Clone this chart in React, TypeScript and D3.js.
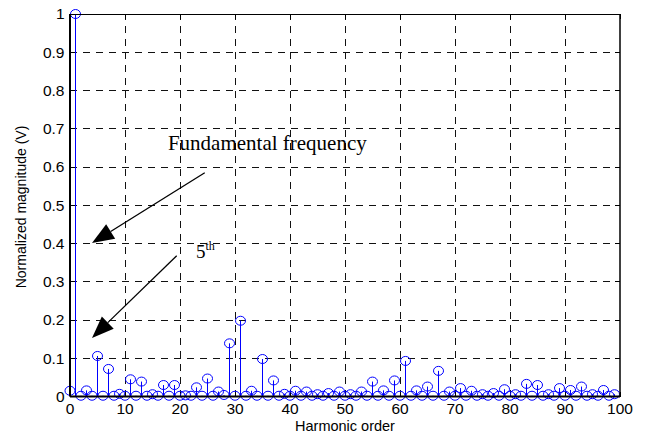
import React from "react";
import * as d3 from "d3";

const harmonics: number[] = d3.range(0, 100);
const magnitudes: number[] = [
  0.015, 1.0, 0.002, 0.016, 0.002, 0.106, 0.002, 0.072, 0.002, 0.007,
  0.002, 0.045, 0.002, 0.039, 0.002, 0.006, 0.002, 0.030, 0.002, 0.030,
  0.002, 0.003, 0.002, 0.024, 0.002, 0.047, 0.002, 0.013, 0.004, 0.139,
  0.002, 0.198, 0.002, 0.015, 0.002, 0.098, 0.002, 0.042, 0.002, 0.007,
  0.002, 0.015, 0.002, 0.013, 0.002, 0.006, 0.002, 0.009, 0.002, 0.013,
  0.002, 0.006, 0.002, 0.013, 0.002, 0.039, 0.002, 0.016, 0.002, 0.042,
  0.002, 0.093, 0.002, 0.016, 0.002, 0.026, 0.002, 0.067, 0.002, 0.013,
  0.002, 0.022, 0.002, 0.015, 0.002, 0.006, 0.002, 0.009, 0.002, 0.019,
  0.002, 0.006, 0.002, 0.033, 0.002, 0.030, 0.002, 0.006, 0.002, 0.022,
  0.002, 0.017, 0.002, 0.026, 0.002, 0.006, 0.002, 0.017, 0.002, 0.006,
];
const xTicks: number[] = [0, 10, 20, 30, 40, 50, 60, 70, 80, 90, 100];
const yTicks: number[] = [0, 0.1, 0.2, 0.3, 0.4, 0.5, 0.6, 0.7, 0.8, 0.9, 1];
const xLabel = "Harmonic order";
const yLabel = "Normalized magnitude (V)";
// annotations in data coordinates: [fromX, fromY, tipX, tipY]
const arrows: number[][] = [
  [24.5, 0.585, 4.0, 0.401],
  [19.4, 0.368, 4.0, 0.153],
];
const fundamentalText = { x: 17.8, y: 0.644, text: "Fundamental frequency" };
const fifthText = { x: 22.9, y: 0.362, text: "5", sup: "th" };

const W = 646;
const H = 437;

export default function App() {
  const x = d3.scaleLinear().domain([0, 100]).range([70, 620]);
  const y = d3.scaleLinear().domain([0, 1]).range([396.5, 14]);
  const [x0, x1] = x.range();
  const [y0, y1] = y.range();
  const sans = "'Liberation Sans', Arial, sans-serif";
  const serif = "'Liberation Serif', 'Times New Roman', serif";

  const arrowHead = (fx: number, fy: number, tx: number, ty: number) => {
    const px1 = x(fx), py1 = y(fy), px2 = x(tx), py2 = y(ty);
    const ang = Math.atan2(py2 - py1, px2 - px1);
    const len = 22, half = 8.5;
    const bx = px2 - len * Math.cos(ang);
    const by = py2 - len * Math.sin(ang);
    const nx = -Math.sin(ang), ny = Math.cos(ang);
    const pts = [
      [px2, py2],
      [bx + half * nx, by + half * ny],
      [bx - half * nx, by - half * ny],
    ];
    return { line: [px1, py1, bx, by], pts: pts.map((p) => p.join(",")).join(" ") };
  };

  return (
    <svg
      width={W}
      height={H}
      style={{ position: "absolute", left: 0, top: 0, background: "#fff" }}
    >
      <rect x={0} y={0} width={W} height={H} fill="#fff" />
      {/* grid */}
      {xTicks.filter((t) => t > 0 && t < 100).map((t) => (
        <line key={"gx" + t} x1={x(t)} x2={x(t)} y1={y0} y2={y1}
          stroke="#111" strokeWidth={1} strokeDasharray="7,6" shapeRendering="crispEdges" />
      ))}
      {yTicks.filter((t) => t > 0 && t < 1).map((t) => (
        <line key={"gy" + t} x1={x0} x2={x1} y1={y(t)} y2={y(t)}
          stroke="#111" strokeWidth={1} strokeDasharray="7,6" shapeRendering="crispEdges" />
      ))}
      {/* ticks inward */}
      {xTicks.map((t) => (
        <g key={"tx" + t}>
          <line x1={x(t)} x2={x(t)} y1={y0} y2={y0 - 5} stroke="#000" shapeRendering="crispEdges" />
          <line x1={x(t)} x2={x(t)} y1={y1} y2={y1 + 5} stroke="#000" shapeRendering="crispEdges" />
          <text x={x(t)} y={414} textAnchor="middle" fontFamily={sans} fontSize={15.5} fill="#000">
            {t}
          </text>
        </g>
      ))}
      {yTicks.map((t) => (
        <g key={"ty" + t}>
          <line x1={x0} x2={x0 + 5} y1={y(t)} y2={y(t)} stroke="#000" shapeRendering="crispEdges" />
          <line x1={x1} x2={x1 - 5} y1={y(t)} y2={y(t)} stroke="#000" shapeRendering="crispEdges" />
          <text x={64.5} y={y(t)} dy="0.35em" textAnchor="end" fontFamily={sans} fontSize={15.5} fill="#000">
            {d3.format("~g")(t)}
          </text>
        </g>
      ))}
      {/* stems */}
      {harmonics.map((h, i) => (
        <line key={"s" + h} x1={x(h)} x2={x(h)} y1={y(0)} y2={y(magnitudes[i])}
          stroke="#0000ff" strokeWidth={1} />
      ))}
      {harmonics.map((h, i) => (
        <ellipse key={"c" + h} cx={x(h)} cy={y(magnitudes[i])} rx={5} ry={4.5}
          fill="none" stroke="#0000ff" strokeWidth={1} />
      ))}
      {/* box */}
      <line x1={x0} x2={x1} y1={y1} y2={y1} stroke="#000" strokeWidth={1} shapeRendering="crispEdges" />
      <line x1={x1} x2={x1} y1={y1} y2={y0} stroke="#000" strokeWidth={1.5} />
      <line x1={x0} x2={x0} y1={y1} y2={y0} stroke="#000" strokeWidth={2} />
      <line x1={x0} x2={x1} y1={y0} y2={y0} stroke="#000" strokeWidth={2} />
      {/* axis labels */}
      <text x={(x0 + x1) / 2} y={431} textAnchor="middle" fontFamily={sans} fontSize={14.5} fill="#000">
        {xLabel}
      </text>
      <text transform={`translate(26,207) rotate(-90)`} textAnchor="middle" fontFamily={sans} fontSize={14} fill="#000">
        {yLabel}
      </text>
      {/* annotations */}
      {arrows.map((a, i) => {
        const ah = arrowHead(a[0], a[1], a[2], a[3]);
        return (
          <g key={"a" + i}>
            <line x1={ah.line[0]} y1={ah.line[1]} x2={ah.line[2]} y2={ah.line[3]} stroke="#000" strokeWidth={1.3} />
            <polygon points={ah.pts} fill="#000" />
          </g>
        );
      })}
      <text x={x(fundamentalText.x)} y={y(fundamentalText.y)} fontFamily={serif} fontSize={21} fill="#000">
        {fundamentalText.text}
      </text>
      <text x={x(fifthText.x)} y={y(fifthText.y)} fontFamily={serif} fontSize={19} fill="#000">
        {fifthText.text}
        <tspan fontSize={12} dy={-8}>{fifthText.sup}</tspan>
      </text>
    </svg>
  );
}
